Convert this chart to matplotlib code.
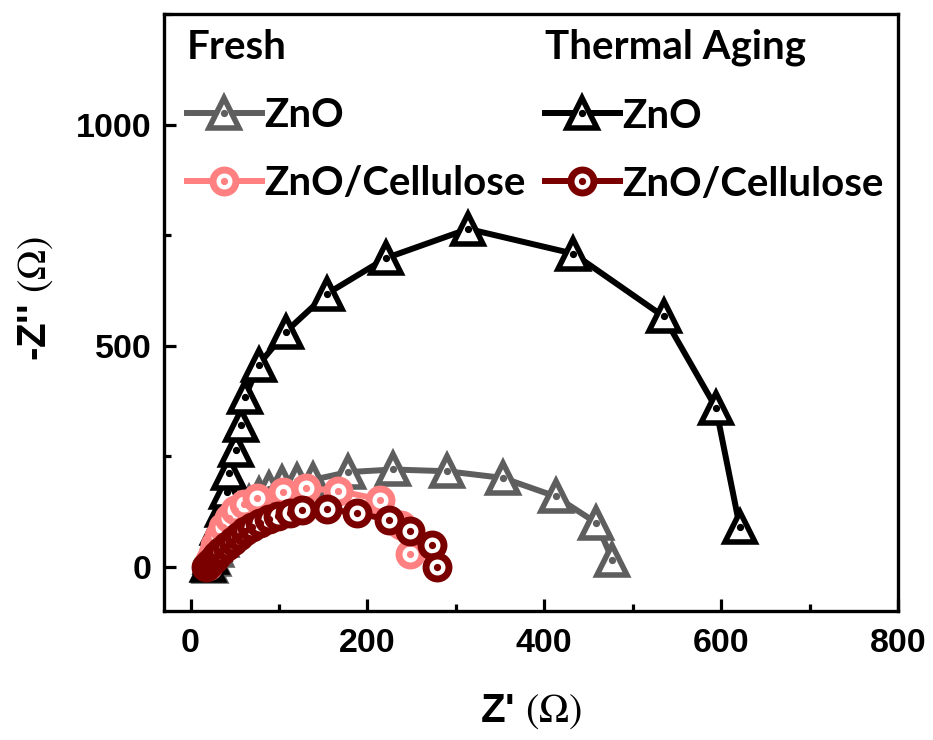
import matplotlib
matplotlib.use('Agg')
import matplotlib.pyplot as plt
from matplotlib.lines import Line2D
from matplotlib.legend_handler import HandlerTuple
from matplotlib.ticker import MultipleLocator
from matplotlib.font_manager import FontProperties

plt.rcParams['mathtext.fontset'] = 'stix'

# ---------------- data ----------------
fresh_zno_x = [22, 25, 29, 34, 40, 47, 56, 66, 77, 89, 103, 120, 139, 178, 229, 290, 353, 413, 459, 477]
fresh_zno_y = [2, 18, 38, 60, 82, 104, 125, 145, 162, 176, 189, 195, 197, 214, 220, 216, 201, 159, 99, 16]

aged_zno_x = [20, 23, 27, 31, 37, 41, 44, 51, 57, 62, 77, 108, 154, 221, 314, 433, 535, 594, 621]
aged_zno_y = [3, 22, 52, 88, 129, 170, 212, 263, 321, 385, 457, 532, 617, 698, 764, 708, 566, 360, 91]

fresh_cell_x = [20, 22, 25, 28, 32, 37, 43, 50, 60, 75, 105, 131, 167, 214, 238, 248]
fresh_cell_y = [2, 15, 32, 50, 70, 90, 110, 128, 142, 155, 170, 178, 172, 152, 95, 28]

aged_cell_x = [18, 22, 26, 30, 35, 41, 48, 55, 62, 70, 79, 89, 99, 112, 126, 154, 188, 224, 248, 273, 279]
aged_cell_y = [0, 8, 17, 26, 36, 47, 58, 69, 80, 90, 99, 107, 114, 121, 128, 130, 122, 106, 80, 50, 0]

labels_zno = 'ZnO'
labels_cell = 'ZnO/Cellulose'
header_fresh = 'Fresh'
header_aged = 'Thermal Aging'

# ---------------- style ----------------
C_GRAY = '#5e5e5e'
C_BLACK = '#000000'
C_PINK = '#ff8080'
C_DRED = '#7a0000'

tick_font = ['Liberation Sans', 'DejaVu Sans']
leg_font = FontProperties(family=['Lato', 'DejaVu Sans'], weight='bold', size=29)

W, H = 933, 740
fig = plt.figure(figsize=(W / 100, H / 100), dpi=100)
L, R, T, B = 164, 898, 14, 611
ax = fig.add_axes([L / W, 1 - B / H, (R - L) / W, (B - T) / H])

TRI_MS, TRI_MEW, LW = 21.5, 4.0, 4.3
CIR_MS, CIR_MEW = 16.5, 5.0
DOT_MS = 4.2


def draw(x, y, color, marker, ms, mew, z):
    ax.plot(x, y, color=color, lw=LW, marker=marker, ms=ms, mfc='white',
            mec=color, mew=mew, zorder=z, solid_joinstyle='round')
    ax.plot(x, y, ls='none', marker='o', ms=DOT_MS, color=color, zorder=z + 0.1)


draw(fresh_zno_x, fresh_zno_y, C_GRAY, '^', TRI_MS, TRI_MEW, 2)
draw(aged_zno_x, aged_zno_y, C_BLACK, '^', TRI_MS, TRI_MEW, 3)
draw(fresh_cell_x, fresh_cell_y, C_PINK, 'o', CIR_MS, CIR_MEW, 4)
draw(aged_cell_x, aged_cell_y, C_DRED, 'o', CIR_MS, CIR_MEW, 5)

ax.set_xlim(-30, 800)
ax.set_ylim(-100, 1250)
ax.xaxis.set_major_locator(MultipleLocator(200))
ax.xaxis.set_minor_locator(MultipleLocator(100))
ax.yaxis.set_major_locator(MultipleLocator(500))
ax.yaxis.set_minor_locator(MultipleLocator(250))
ax.tick_params(which='both', direction='in', width=2.3, top=False, right=False)
ax.tick_params(which='major', length=8.5)
ax.tick_params(which='minor', length=5)
ax.tick_params(axis='x', which='major', pad=12)
ax.tick_params(axis='y', which='major', pad=9)
for sp in ax.spines.values():
    sp.set_linewidth(2.4)
for lab in ax.get_xticklabels() + ax.get_yticklabels():
    lab.set_fontfamily(tick_font)
    lab.set_fontweight('bold')
    lab.set_fontsize(24.5)

ax.set_xlabel("Z' $(\\Omega)$", fontfamily=tick_font, fontweight='bold', fontsize=29)
ax.xaxis.set_label_coords(0.5, -0.137)
ax.set_ylabel("-Z'' $(\\Omega)$", fontfamily=tick_font, fontweight='bold', fontsize=29)
ax.yaxis.set_label_coords(-0.148, 0.524)


def handle(color, marker, ms, mew):
    ln = Line2D([], [], color=color, lw=LW, marker=marker, ms=ms, mfc='white', mec=color, mew=mew)
    dt = Line2D([], [], ls='none', marker='o', ms=DOT_MS, color=color)
    return (ln, dt)


common = dict(handler_map={tuple: HandlerTuple(ndivide=1, pad=0)}, loc='upper left',
              frameon=False, prop=leg_font, title_fontproperties=leg_font,
              alignment='left', handlelength=1.85, handletextpad=0.08,
              labelspacing=0.77, borderpad=0, borderaxespad=0, numpoints=1)

anchor_y = (B - 29) / (B - T)
leg1 = ax.legend([handle(C_GRAY, '^', TRI_MS, TRI_MEW), handle(C_PINK, 'o', CIR_MS, CIR_MEW)],
                 [labels_zno, labels_cell], title=header_fresh,
                 bbox_to_anchor=((187 - L) / (R - L), anchor_y), **common)
ax.add_artist(leg1)
leg2 = ax.legend([handle(C_BLACK, '^', TRI_MS, TRI_MEW), handle(C_DRED, 'o', CIR_MS, CIR_MEW)],
                 [labels_zno, labels_cell], title=header_aged,
                 bbox_to_anchor=((545 - L) / (R - L), anchor_y), **common)

fig.savefig('out.png', dpi=100)
